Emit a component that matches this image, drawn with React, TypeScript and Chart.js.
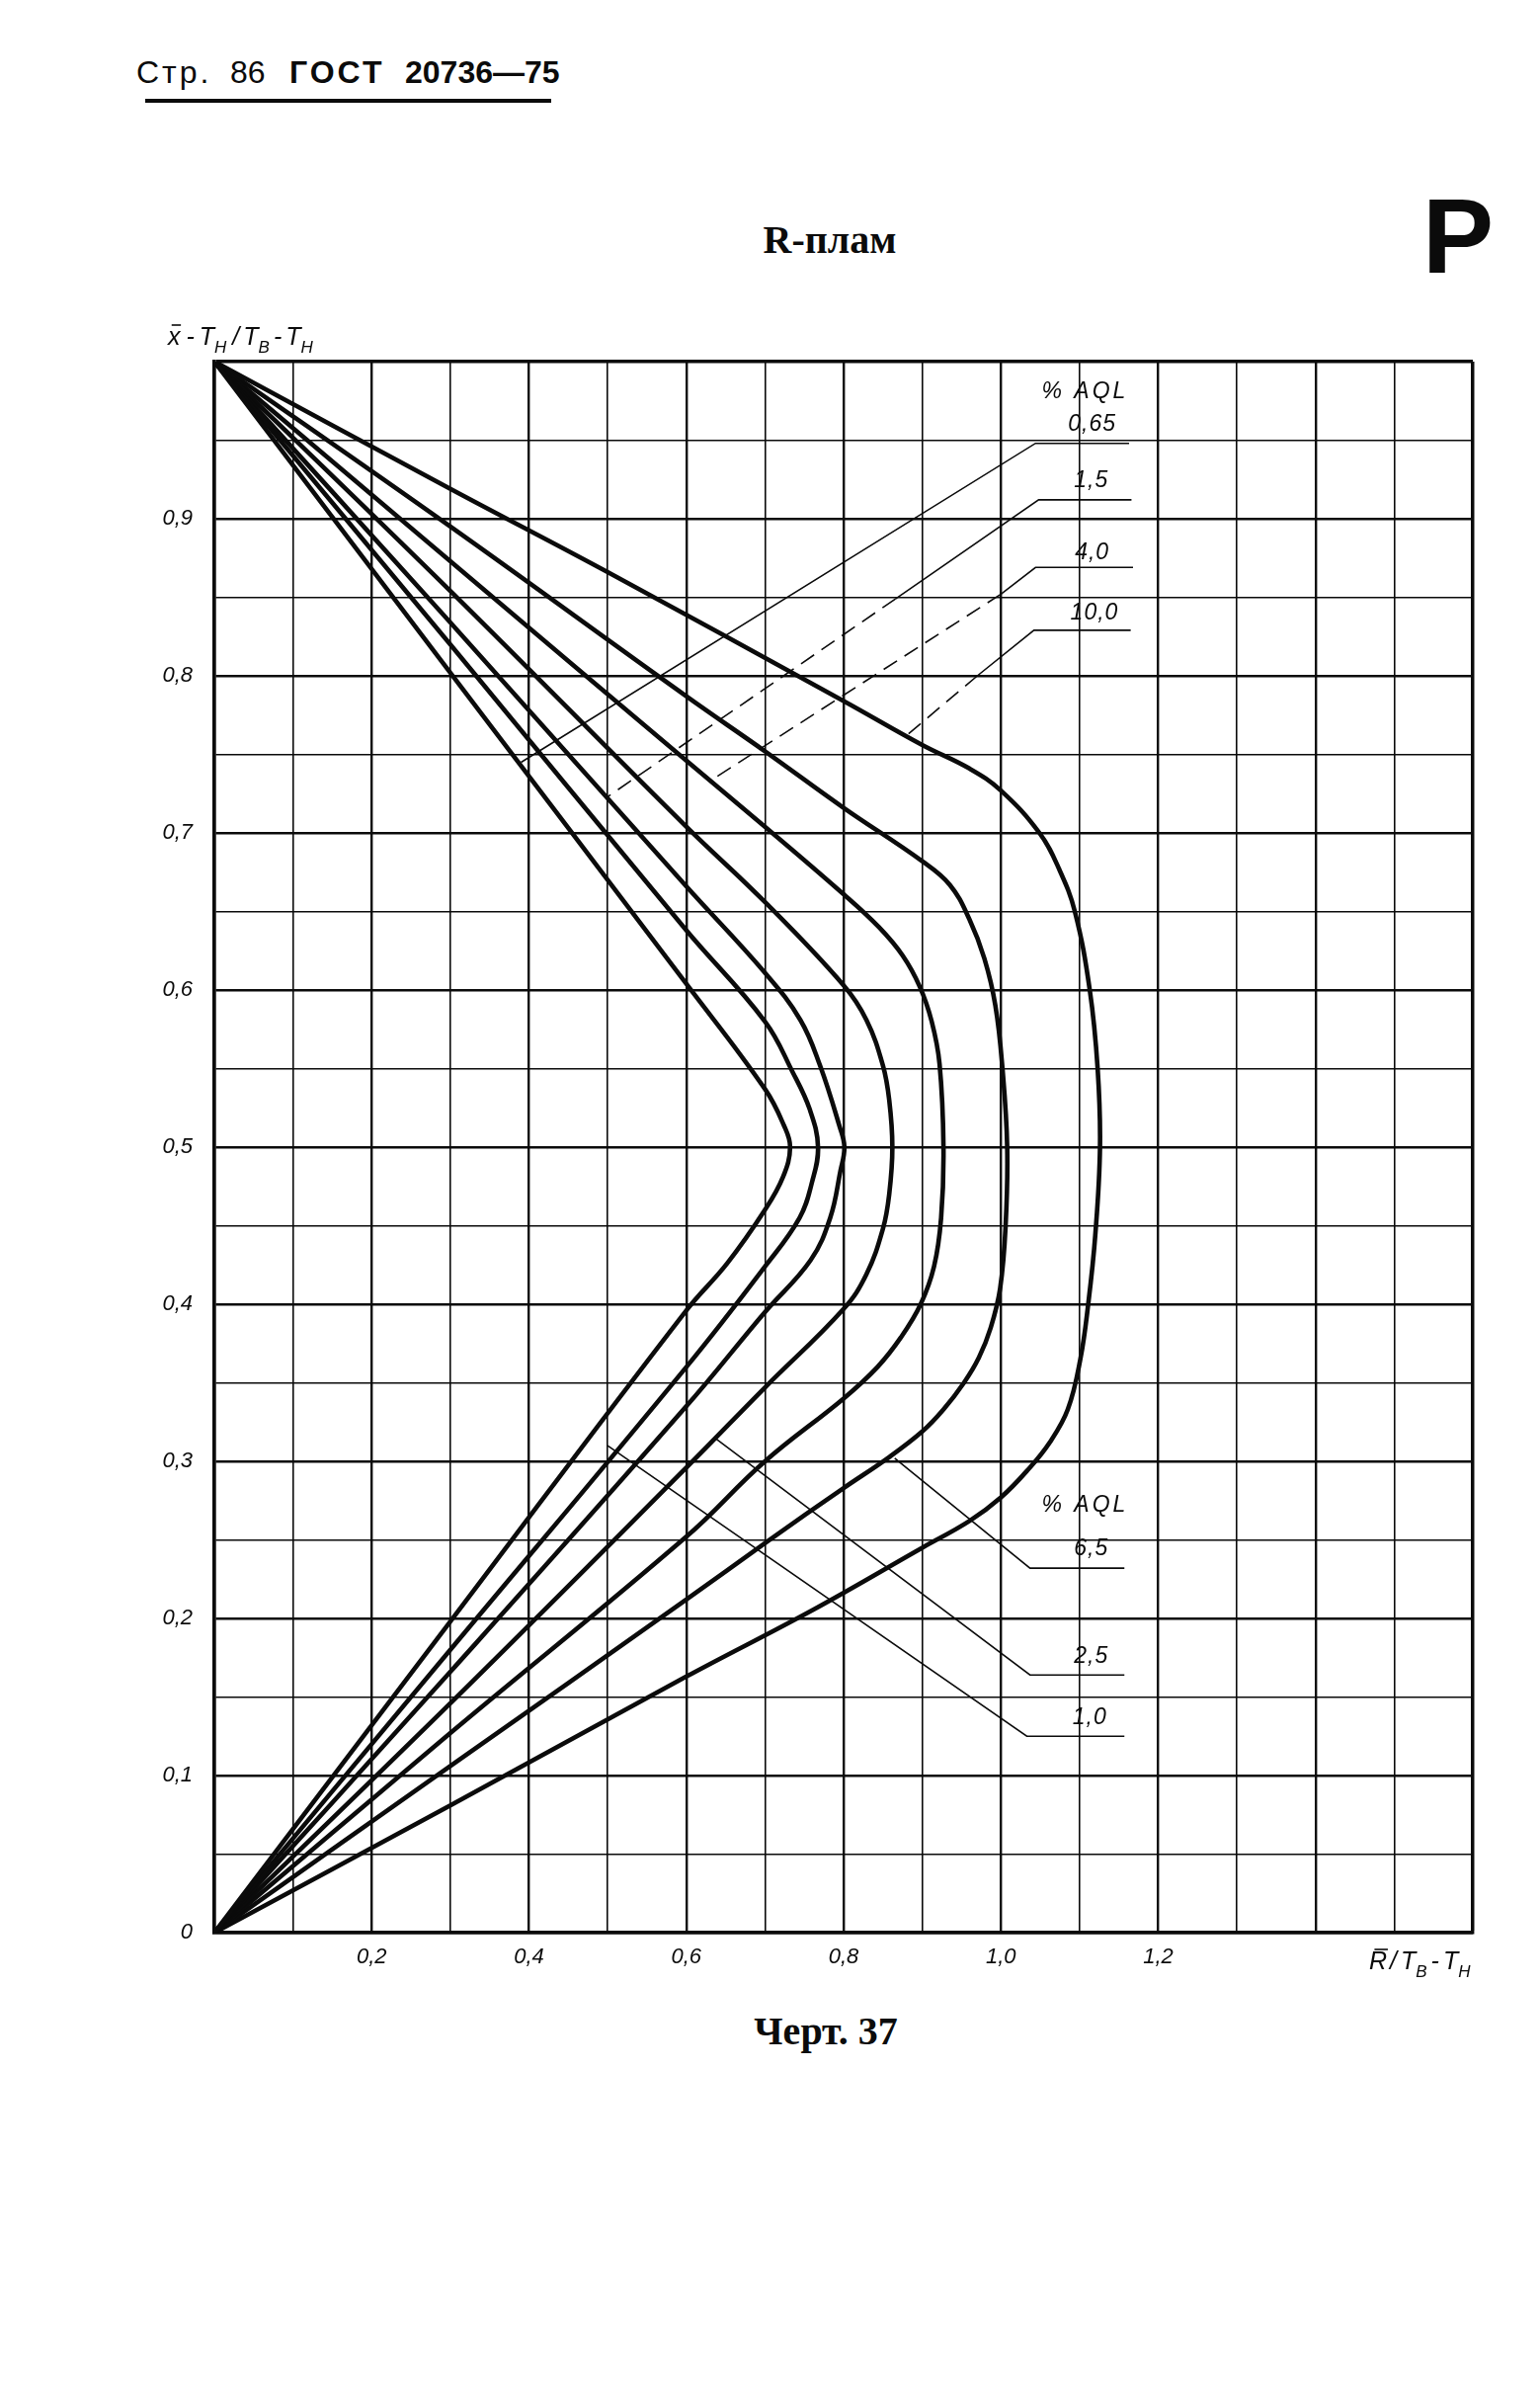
import React, { useEffect, useRef } from "react";
import { Chart, registerables } from "chart.js";

Chart.register(...registerables);

// ---------------- data ----------------
// x = R̄/(Tв−Tн), y = (x̄−Tн)/(Tв−Tн); each curve runs from (0,1) round its nose at y = 0.5 back to (0,0)
const aql065X = [0, 0.3, 0.6, 0.7, 0.724, 0.732, 0.723, 0.7, 0.652, 0.6, 0.3, 0];
const aql065Y = [1, 0.802, 0.604, 0.537, 0.514, 0.5, 0.481, 0.46, 0.426, 0.396, 0.198, 0];

const aql10X = [0, 0.3, 0.6, 0.7, 0.735, 0.757, 0.7675, 0.76, 0.744, 0.7, 0.6, 0.3, 0];
const aql10Y = [1, 0.82, 0.638, 0.58, 0.548, 0.524, 0.5, 0.478, 0.455, 0.424, 0.36, 0.18, 0];

const aql15X = [0, 0.3, 0.6, 0.7, 0.745, 0.77, 0.795, 0.801, 0.796, 0.783, 0.758, 0.7, 0.6, 0.3, 0];
const aql15Y = [1, 0.834, 0.666, 0.611, 0.581, 0.552, 0.513, 0.5, 0.485, 0.455, 0.428, 0.395, 0.335, 0.166, 0];

const aql25X = [0, 0.3, 0.6, 0.7, 0.8, 0.829, 0.85, 0.858, 0.862, 0.858, 0.85, 0.829, 0.8, 0.7, 0.6, 0.3, 0];
const aql25Y = [1, 0.854, 0.704, 0.656, 0.603, 0.581, 0.552, 0.53, 0.5, 0.47, 0.448, 0.419, 0.397, 0.347, 0.296, 0.146, 0];

const aql40X = [0, 0.3, 0.6, 0.7, 0.8, 0.845, 0.875, 0.897, 0.912, 0.922, 0.927, 0.924, 0.915, 0.898, 0.873, 0.843, 0.8, 0.7, 0.6, 0.3, 0];
const aql40Y = [1, 0.873, 0.746, 0.704, 0.661, 0.64, 0.622, 0.602, 0.58, 0.553, 0.5, 0.455, 0.424, 0.4, 0.379, 0.36, 0.34, 0.3, 0.252, 0.127, 0];

const aql65X = [0, 0.3, 0.6, 0.7, 0.8, 0.9, 0.935, 0.96, 0.979, 0.993, 1.002, 1.008, 1.006, 0.999, 0.987, 0.972, 0.953, 0.927, 0.9, 0.856, 0.8, 0.703, 0.6, 0.3, 0];
const aql65Y = [1, 0.895, 0.787, 0.752, 0.716, 0.682, 0.667, 0.645, 0.62, 0.59, 0.55, 0.5, 0.45, 0.41, 0.385, 0.366, 0.35, 0.333, 0.319, 0.302, 0.283, 0.249, 0.212, 0.106, 0];

const aql100X = [0, 0.3, 0.5, 0.8, 0.9, 0.96, 1.0, 1.049, 1.074, 1.094, 1.113, 1.123, 1.126, 1.12, 1.111, 1.101, 1.085, 1.062, 1.035, 1.0, 0.96, 0.9, 0.763, 0.6, 0.3, 0];
const aql100Y = [1, 0.919, 0.866, 0.784, 0.756, 0.741, 0.727, 0.7, 0.677, 0.65, 0.6, 0.55, 0.5, 0.444, 0.4, 0.365, 0.333, 0.312, 0.295, 0.277, 0.262, 0.245, 0.206, 0.163, 0.081, 0];

// leader lines: underline of the label, then the line to its curve
const leader065X = [1.163, 1.044, 0.39];
const leader065Y = [0.948, 0.948, 0.745];
const leader15X = [1.166, 1.048, 0.866, 0.5];
const leader15Y = [0.912, 0.912, 0.849, 0.723];
const leader40X = [1.168, 1.044, 1.0, 0.63];
const leader40Y = [0.869, 0.869, 0.852, 0.733];
const leader100X = [1.165, 1.042, 0.97, 0.88];
const leader100Y = [0.829, 0.829, 0.8, 0.762];
const leader65X = [1.157, 1.037, 0.865];
const leader65Y = [0.232, 0.232, 0.302];
const leader25X = [1.157, 1.037, 0.636];
const leader25Y = [0.164, 0.164, 0.315];
const leader10X = [1.157, 1.033, 0.5];
const leader10Y = [0.125, 0.125, 0.31];

// labels placed inside the plot
const noteTexts = ["% AQL", "0,65", "1,5", "4,0", "10,0", "% AQL", "6,5", "2,5", "1,0"];
const noteX = [1.107, 1.116, 1.115, 1.116, 1.119, 1.107, 1.115, 1.115, 1.113];
const noteY = [0.981, 0.96, 0.924, 0.878, 0.84, 0.272, 0.244, 0.176, 0.137];

// tick labels
const xTickValues = [0.2, 0.4, 0.6, 0.8, 1.0, 1.2];
const xTickLabels = ["0,2", "0,4", "0,6", "0,8", "1,0", "1,2"];
const yTickValues = [0, 0.1, 0.2, 0.3, 0.4, 0.5, 0.6, 0.7, 0.8, 0.9];
const yTickLabels = ["0", "0,1", "0,2", "0,3", "0,4", "0,5", "0,6", "0,7", "0,8", "0,9"];

const FONT = "'Liberation Sans', Arial, sans-serif";
const INK = "#0b0b0b";

type Part = { t: string; sub?: boolean; bar?: boolean; gap?: number };

function drawRich(ctx: CanvasRenderingContext2D, x: number, y: number, parts: Part[], size: number) {
  let cx = x;
  ctx.textAlign = "left";
  ctx.textBaseline = "alphabetic";
  for (const p of parts) {
    const fs = p.sub ? Math.round(size * 0.66) : size;
    ctx.font = `italic ${fs}px ${FONT}`;
    const dy = p.sub ? size * 0.3 : 0;
    ctx.fillText(p.t, cx, y + dy);
    const w = ctx.measureText(p.t).width;
    if (p.bar) {
      ctx.beginPath();
      ctx.lineWidth = 1.6;
      ctx.moveTo(cx + w * 0.3, y - size * 0.8);
      ctx.lineTo(cx + w * 1.05, y - size * 0.8);
      ctx.stroke();
    }
    cx += w + (p.gap ?? 0);
  }
}

const yTitle: Part[] = [
  { t: "x", bar: true, gap: 6 },
  { t: "-", gap: 5 },
  { t: "T", gap: 0 },
  { t: "Н", sub: true, gap: 6 },
  { t: "/", gap: 4 },
  { t: "T", gap: 0 },
  { t: "В", sub: true, gap: 4 },
  { t: "-", gap: 4 },
  { t: "T", gap: 0 },
  { t: "Н", sub: true },
];
const xTitle: Part[] = [
  { t: "R", bar: true, gap: 3 },
  { t: "/", gap: 4 },
  { t: "T", gap: 0 },
  { t: "В", sub: true, gap: 4 },
  { t: "-", gap: 4 },
  { t: "T", gap: 0 },
  { t: "Н", sub: true },
];

const textPlugin = {
  id: "gostText",
  afterDraw(chart: any) {
    const ctx: CanvasRenderingContext2D = chart.ctx;
    const xs = chart.scales.x;
    const ys = chart.scales.y;
    const area = chart.chartArea;
    ctx.save();
    ctx.fillStyle = INK;
    ctx.strokeStyle = INK;
    ctx.textAlign = "center";
    ctx.textBaseline = "middle";
    ctx.font = `italic 23px ${FONT}`;
    noteTexts.forEach((t, i) => {
      (ctx as any).letterSpacing = t.startsWith("%") ? "3px" : "1px";
      ctx.fillText(t, xs.getPixelForValue(noteX[i]), ys.getPixelForValue(noteY[i]));
    });
    (ctx as any).letterSpacing = "0px";
    drawRich(ctx, area.left - 47, area.top - 17, yTitle, 25);
    drawRich(ctx, area.right - 105, area.bottom + 37, xTitle, 25);
    ctx.restore();
  },
};

function curve(xs: number[], ys: number[]) {
  return {
    data: xs.map((x, i) => ({ x, y: ys[i] })),
    showLine: true,
    borderColor: INK,
    borderWidth: 4.6,
    pointRadius: 0,
    tension: 0.4,
    fill: false,
  };
}

function leader(xs: number[], ys: number[], dashedFrom: number) {
  return {
    data: xs.map((x, i) => ({ x, y: ys[i] })),
    showLine: true,
    borderColor: INK,
    borderWidth: 1.6,
    pointRadius: 0,
    tension: 0,
    fill: false,
    segment: {
      borderDash: (c: any) => (c.p0DataIndex >= dashedFrom ? [16, 9] : undefined),
    },
  };
}

const near = (v: number, arr: number[]) => arr.findIndex((a) => Math.abs(a - v) < 1e-6);

export default function App() {
  const ref = useRef<HTMLCanvasElement>(null);

  useEffect(() => {
    const canvas = ref.current;
    if (!canvas) return;
    const tickFont = { family: FONT, size: 22, style: "italic" as const };
    const chart = new Chart(canvas, {
      type: "scatter",
      data: {
        datasets: [
          curve(aql065X, aql065Y),
          curve(aql10X, aql10Y),
          curve(aql15X, aql15Y),
          curve(aql25X, aql25Y),
          curve(aql40X, aql40Y),
          curve(aql65X, aql65Y),
          curve(aql100X, aql100Y),
          leader(leader065X, leader065Y, 99),
          leader(leader15X, leader15Y, 2),
          leader(leader40X, leader40Y, 2),
          leader(leader100X, leader100Y, 2),
          leader(leader65X, leader65Y, 99),
          leader(leader25X, leader25Y, 99),
          leader(leader10X, leader10Y, 99),
        ] as any,
      },
      options: {
        animation: false,
        responsive: false,
        maintainAspectRatio: false,
        events: [],
        layout: { padding: { left: 117, top: 366, right: 68, bottom: 412 } },
        plugins: { legend: { display: false }, tooltip: { enabled: false }, title: { display: false } },
        scales: {
          x: {
            type: "linear",
            min: 0,
            max: 1.6,
            afterFit: (s: any) => {
              s.height = 60;
            },
            ticks: {
              stepSize: 0.1,
              autoSkip: false,
              maxRotation: 0,
              minRotation: 0,
              padding: 12,
              color: INK,
              font: tickFont,
              callback: (v: any) => {
                const i = near(Number(v), xTickValues);
                return i >= 0 ? xTickLabels[i] : "";
              },
            },
            grid: {
              color: INK,
              drawTicks: false,
              lineWidth: (c: any) => {
                const k = Math.round((c.tick?.value ?? 0) * 10);
                if (k === 16) return 3.5;
                return k % 2 === 0 ? 2.4 : 1.6;
              },
            },
            border: { display: true, color: INK, width: 3.5 },
          },
          y: {
            type: "linear",
            min: 0,
            max: 1,
            afterFit: (s: any) => {
              s.width = 100;
            },
            ticks: {
              stepSize: 0.05,
              autoSkip: false,
              padding: 22,
              color: INK,
              font: tickFont,
              callback: (v: any) => {
                const i = near(Number(v), yTickValues);
                return i >= 0 ? yTickLabels[i] : "";
              },
            },
            grid: {
              color: INK,
              drawTicks: false,
              lineWidth: (c: any) => {
                const k = Math.round((c.tick?.value ?? 0) * 100);
                if (k === 100) return 3.5;
                return k % 10 === 0 ? 2.4 : 1.6;
              },
            },
            border: { display: true, color: INK, width: 3.5 },
          },
        },
      },
      plugins: [textPlugin],
    });
    return () => chart.destroy();
  }, []);

  const abs = (style: React.CSSProperties): React.CSSProperties => ({ position: "absolute", whiteSpace: "nowrap", ...style });
  const hdr: React.CSSProperties = { fontFamily: FONT, fontSize: 32, lineHeight: "32px", top: 57, color: INK };

  return (
    <div style={{ position: "absolute", left: 0, top: 0, width: 1559, height: 2428, background: "#fff", overflow: "hidden" }}>
      <div style={abs({ ...hdr, left: 138, letterSpacing: 3 })}>Стр.</div>
      <div style={abs({ ...hdr, left: 233 })}>86</div>
      <div style={abs({ ...hdr, left: 293, fontWeight: "bold", letterSpacing: 3 })}>ГОСТ</div>
      <div style={abs({ ...hdr, left: 410, fontWeight: "bold" })}>20736—75</div>
      <div style={abs({ left: 147, top: 100, width: 411, height: 4, background: INK })} />
      <div
        style={abs({
          left: 740,
          width: 200,
          textAlign: "center",
          top: 223,
          fontFamily: "'Liberation Serif', serif",
          fontWeight: "bold",
          fontSize: 40,
          lineHeight: "40px",
          color: INK,
        })}
      >
        R-плам
      </div>
      <div
        style={abs({
          left: 1440,
          top: 185,
          fontFamily: FONT,
          fontWeight: "bold",
          fontSize: 108,
          lineHeight: "108px",
          color: INK,
        })}
      >
        P
      </div>
      <div
        style={abs({
          left: 736,
          width: 200,
          textAlign: "center",
          top: 2036,
          fontFamily: "'Liberation Serif', serif",
          fontWeight: "bold",
          fontSize: 40,
          lineHeight: "40px",
          color: INK,
        })}
      >
        Черт. 37
      </div>
      <canvas ref={ref} width={1559} height={2428} style={{ position: "absolute", left: 0, top: 0, width: 1559, height: 2428 }} />
    </div>
  );
}
